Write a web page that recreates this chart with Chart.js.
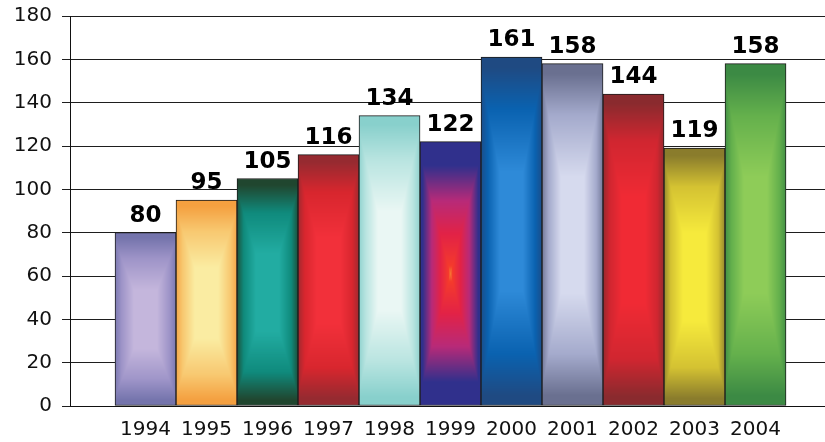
<!DOCTYPE html>
<html>
<head>
<meta charset="utf-8">
<script src="https://cdn.jsdelivr.net/npm/chart.js@4.4.1/dist/chart.umd.min.js"></script>
<style>
  html, body { margin: 0; padding: 0; background: #ffffff; }
  #wrap { width: 825px; height: 442px; }
</style>
</head>
<body>
<div id="wrap"><canvas id="chart" width="825" height="442"></canvas></div>
<script>
// Yearly totals, one bar per year
const years = [1994, 1995, 1996, 1997, 1998, 1999, 2000, 2001, 2002, 2003, 2004];
const values = [80, 95, 105, 116, 134, 122, 161, 158, 144, 119, 158];
const yTicks = [0, 20, 40, 60, 80, 100, 120, 140, 160, 180];

// Shading colours for each bar: bright centre, mid band, dark rim
const centerColors = ['#c4b6dc', '#faeca2', '#22aca2', '#f2303a', '#eaf7f4', '#f43a2c', '#2e8ad8', '#d6daee', '#f02a34', '#f6ea3c', '#8ecc58'];
const midColors    = ['#9e94c8', '#f8c870', '#0f8a7c', '#d8262e', '#b8e4e0', '#b82a78', '#0a62b0', '#a4aacc', '#d02630', '#d4c232', '#64b04c'];
const edgeColors   = ['#7474ac', '#f4a040', '#20462f', '#962a30', '#88d0cc', '#30308c', '#1f4a82', '#6a7090', '#8a2a2e', '#8a7c2c', '#3c8a44'];

function hexToRgb(h) {
  const n = parseInt(h.slice(1), 16);
  return [(n >> 16) & 255, (n >> 8) & 255, n & 255];
}

function sampleStops(stops, t) {
  for (let i = 1; i < stops.length; i++) {
    if (t <= stops[i][0]) {
      const a = stops[i - 1], b = stops[i];
      const f = (t - a[0]) / Math.max(1e-6, b[0] - a[0]);
      return [0, 1, 2].map(k => a[1][k] + (b[1][k] - a[1][k]) * f);
    }
  }
  return stops[stops.length - 1][1];
}

// Rectangular "from centre" gradient painted into an offscreen canvas
const shadeCache = {};
function makeShade(i, w, h) {
  const key = i + ':' + w + 'x' + h;
  if (shadeCache[key]) return shadeCache[key];
  const c = document.createElement('canvas');
  c.width = Math.max(1, w); c.height = Math.max(1, h);
  const g = c.getContext('2d');
  const img = g.createImageData(c.width, c.height);
  const cc = hexToRgb(centerColors[i]), mc = hexToRgb(midColors[i]), ec = hexToRgb(edgeColors[i]);
  const stops = i === 5
    ? [[0, [246, 120, 50]], [0.06, cc], [0.3, [226, 34, 70]], [0.55, mc], [0.82, ec], [1, ec]]
    : [[0, cc], [0.34, cc], [0.7, mc], [0.94, ec], [1, ec]];
  for (let y = 0; y < c.height; y++) {
    const ty = Math.abs(y + 0.5 - c.height / 2) / (c.height / 2);
    for (let x = 0; x < c.width; x++) {
      const tx = Math.abs(x + 0.5 - c.width / 2) / (c.width / 2);
      const t = Math.max(tx * 0.9, ty);
      const col = sampleStops(stops, t);
      const p = (y * c.width + x) * 4;
      img.data[p] = col[0]; img.data[p + 1] = col[1]; img.data[p + 2] = col[2]; img.data[p + 3] = 255;
    }
  }
  g.putImageData(img, 0, 0);
  shadeCache[key] = c;
  return c;
}

function barFill(ctx) {
  const chart = ctx.chart;
  const i = ctx.dataIndex;
  if (ctx.type !== 'data' || !chart.chartArea || !chart.scales.x || !chart.scales.y) return edgeColors[i] || '#888';
  const xs = chart.scales.x, ys = chart.scales.y;
  const cx = xs.getPixelForValue(years[i]);
  const w = Math.abs(xs.getPixelForValue(years[i] + 0.5) - xs.getPixelForValue(years[i] - 0.5));
  const top = ys.getPixelForValue(values[i]);
  const base = ys.getPixelForValue(0);
  const left = cx - w / 2;
  const shade = makeShade(i, Math.round(w), Math.round(base - top));
  const pat = chart.ctx.createPattern(shade, 'no-repeat');
  pat.setTransform(new DOMMatrix([1, 0, 0, 1, left, top]));
  return pat;
}

// Bold value above each bar
const valueLabels = {
  id: 'valueLabels',
  afterDatasetsDraw(chart) {
    const meta = chart.getDatasetMeta(0);
    const c = chart.ctx;
    c.save();
    c.font = 'bold 23px "DejaVu Sans", Verdana, sans-serif';
    c.fillStyle = '#000000';
    c.textAlign = 'center';
    c.textBaseline = 'alphabetic';
    meta.data.forEach((el, i) => {
      c.fillText(String(values[i]), el.x, el.y - 11);
    });
    c.restore();
  }
};

const tickFont = { family: '"DejaVu Sans", Verdana, sans-serif', size: 20 };

new Chart(document.getElementById('chart'), {
  type: 'bar',
  data: {
    datasets: [{
      data: years.map((y, i) => ({ x: y, y: values[i] })),
      backgroundColor: barFill,
      borderColor: '#1c1c1c',
      borderWidth: 1,
      borderSkipped: false,
      categoryPercentage: 1,
      barPercentage: 1
    }]
  },
  options: {
    responsive: false,
    animation: false,
    events: [],
    layout: { padding: { left: 0, right: 0, top: 16, bottom: 0 } },
    plugins: { legend: { display: false }, tooltip: { enabled: false } },
    scales: {
      x: {
        type: 'linear',
        offset: false,
        min: 1992.762,
        max: 2005.139,
        afterBuildTicks: s => { s.ticks = years.map(v => ({ value: v })); },
        afterFit: s => { s.paddingLeft = 0; s.paddingRight = 0; s.height = 36; },
        grid: { display: false, drawTicks: false, offset: false },
        border: { display: true, color: '#111111', width: 1 },
        ticks: {
          autoSkip: false,
          maxRotation: 0,
          padding: 12,
          color: '#111111',
          font: tickFont,
          callback: v => String(v)
        }
      },
      y: {
        min: 0,
        max: 180,
        afterBuildTicks: s => { s.ticks = yTicks.map(v => ({ value: v })); },
        afterFit: s => { s.width = 70; s.paddingTop = 0; s.paddingBottom = 0; },
        grid: { color: '#1e1e1e', lineWidth: 1, drawTicks: true, tickLength: 8 },
        border: { display: true, color: '#111111', width: 1 },
        ticks: {
          padding: 10,
          color: '#111111',
          font: tickFont,
          callback: v => String(v)
        }
      }
    }
  },
  plugins: [valueLabels]
});
</script>
</body>
</html>
